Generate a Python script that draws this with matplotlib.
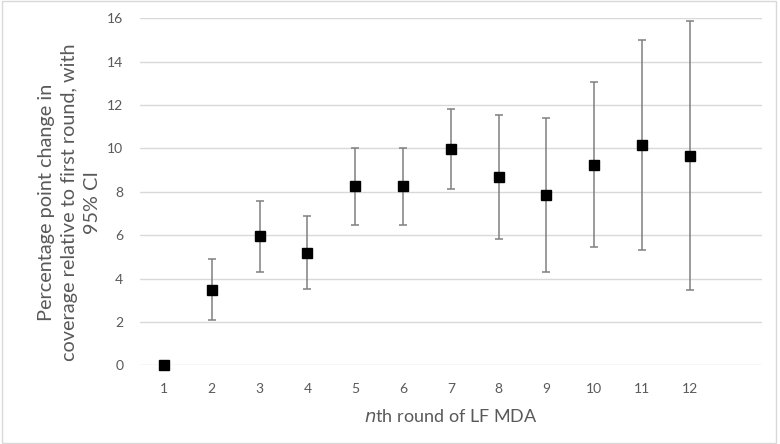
import matplotlib
matplotlib.use("Agg")
import matplotlib.pyplot as plt
from matplotlib.patches import Rectangle

rounds = [1, 2, 3, 4, 5, 6, 7, 8, 9, 10, 11, 12]
change = [0.0, 3.48, 5.95, 5.18, 8.25, 8.25, 9.97, 8.69, 7.86, 9.25, 10.15, 9.66]
ci_low = [0.0, 2.08, 4.30, 3.51, 6.47, 6.48, 8.12, 5.83, 4.31, 5.45, 5.31, 3.46]
ci_high = [0.0, 4.90, 7.59, 6.88, 10.01, 10.02, 11.83, 11.55, 11.42, 13.06, 15.02, 15.88]
yticks = [0, 2, 4, 6, 8, 10, 12, 14, 16]

plt.rcParams['font.family'] = ['Lato', 'DejaVu Sans']
txt = '#595959'

fig = plt.figure(figsize=(7.8, 4.44), dpi=100)
ax = fig.add_axes([0.1795, 0.1773, 0.797, 0.7815])

err_lo = [c - l for c, l in zip(change, ci_low)]
err_hi = [h - c for c, h in zip(change, ci_high)]
for x, c, lo, hi in zip(rounds, change, err_lo, err_hi):
    if lo == 0 and hi == 0:
        continue
    ax.errorbar([x], [c], yerr=[[lo], [hi]], fmt='none', ecolor='#808080',
                elinewidth=1.1, capsize=2.6, capthick=1.1, zorder=3)
ax.plot(rounds, change, linestyle='none', marker='s', markersize=6.8,
        color='black', zorder=4, clip_on=False)

ax.set_xlim(0.5, 13.5)
ax.set_ylim(0, 16)
ax.set_yticks(yticks)
ax.set_xticks(rounds)
ax.set_xticklabels([str(r) for r in rounds])
ax.grid(axis='y', color='#d9d9d9', linewidth=1.0)
ax.set_axisbelow(True)
for s in ax.spines.values():
    s.set_visible(False)
ax.tick_params(axis='both', length=0, colors=txt, labelsize=10)
ax.tick_params(axis='y', pad=12)
ax.tick_params(axis='x', pad=13)

ax.set_xlabel(r'$\it{n}$th round of LF MDA', color=txt, fontsize=13, labelpad=9)
ax.set_ylabel('Percentage point change in\ncoverage relative to first round, with\n95% CI',
              color=txt, fontsize=14.3, linespacing=1.45)
ax.yaxis.set_label_coords(-0.062, 0.47)

fig.patches.append(Rectangle((0.002, 0.002), 0.993, 0.995, transform=fig.transFigure,
                             fill=False, edgecolor='#d9d9d9', linewidth=1.0))

fig.savefig('out.png', dpi=100)
